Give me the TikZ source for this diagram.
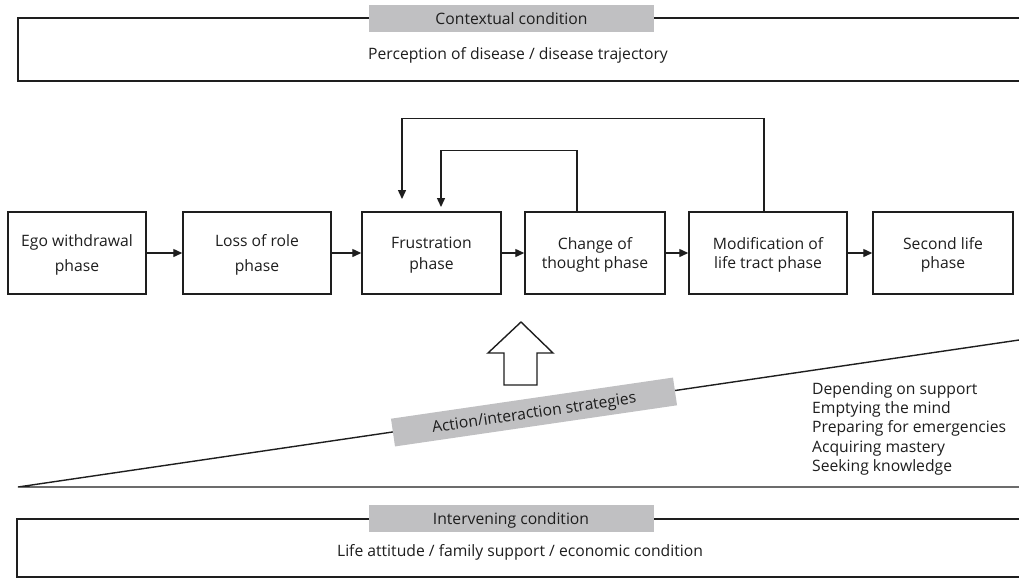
\documentclass[tikz,border=0pt]{standalone}
\usepackage{fontspec}
\setmainfont{Open Sans}
\usetikzlibrary{arrows.meta}
\definecolor{lblgray}{RGB}{192,192,194}
\definecolor{ink}{RGB}{30,30,30}
\begin{document}
\begin{tikzpicture}[x=1pt,y=-1pt,
  txt/.style={font=\fontsize{15.7}{19.5}\selectfont, text=ink},
  phasebox/.style={draw=ink, line width=1.5pt, txt, align=center, inner sep=0pt, minimum height=82pt, text depth=0pt},
  lbl/.style={fill=lblgray, txt, inner sep=0pt, minimum height=27pt, minimum width=285pt, text depth=0pt},
  frame/.style={draw=ink, line width=1.4pt},
  arr/.style={draw=ink, line width=1.4pt, -{Triangle[length=9pt,width=8pt]}},
]
\useasboundingbox (0,0) rectangle (1019,579);
\fill[white] (0,0) rectangle (1019,579);

% contextual condition
\draw[frame] (1019,18) -- (18,18) -- (18,81) -- (1019,81);
\node[lbl] (ctx) at (511.5,18.5) {Contextual condition};
\node[txt] (ctxt) at (518,55) {Perception of disease / disease trajectory};

% phases
\node[phasebox, minimum width=138pt] (ego) at (77,253) {Ego withdrawal\\[5pt]phase};
\node[phasebox, minimum width=148pt] (loss) at (257,253) {Loss of role\\[5pt]phase};
\node[phasebox, minimum width=139pt] (fru) at (431.5,253) {Frustration\\[2pt]phase};
\node[phasebox, minimum width=140pt] (chg) at (595,253) {Change of\\thought phase};
\node[phasebox, minimum width=158pt] (mod) at (768,253) {Modification of\\life tract phase};
\node[phasebox, minimum width=140pt] (sec) at (943,253) {Second life\\phase};

\draw[arr] (ego) -- (loss);
\draw[arr] (loss) -- (fru);
\draw[arr] (fru) -- (chg);
\draw[arr] (chg) -- (mod);
\draw[arr] (mod) -- (sec);

% feedback loops
\coordinate (fb1) at (402,199);
\coordinate (fb2) at (441,207);
\draw[arr] ([xshift=-4pt]mod.north) -- ++(0,-93) -| (fb1);
\draw[arr] ([xshift=-18pt]chg.north) -- ++(0,-61) -| (fb2);

% block arrow
\draw[draw=ink, line width=1.4pt, fill=white, line join=miter]
  (504,385) -- (504,353) -- (488,353) -- (521,322) -- (553,353) -- (537,353) -- (537,385) -- cycle;

% wedge
\draw[frame] (1019,340) -- (18,487) -- (1019,487);
\node[lbl, rotate=8.3, minimum width=285pt, minimum height=28pt] (act) at (534,412) {Action/interaction strategies};

\node[txt, anchor=north west, align=left, font=\fontsize{15.7}{19.4}\selectfont, inner sep=0pt] (strat) at (812,382)
  {Depending on support\\Emptying the mind\\Preparing for emergencies\\Acquiring mastery\\Seeking knowledge};

% intervening condition
\draw[frame] (1019,519) -- (17,519) -- (17,577) -- (1019,577);
\node[lbl] (int) at (511,518.5) {Intervening condition};
\node[txt] (intt) at (520,552.5) {Life attitude / family support / economic condition};
\end{tikzpicture}
\end{document}
